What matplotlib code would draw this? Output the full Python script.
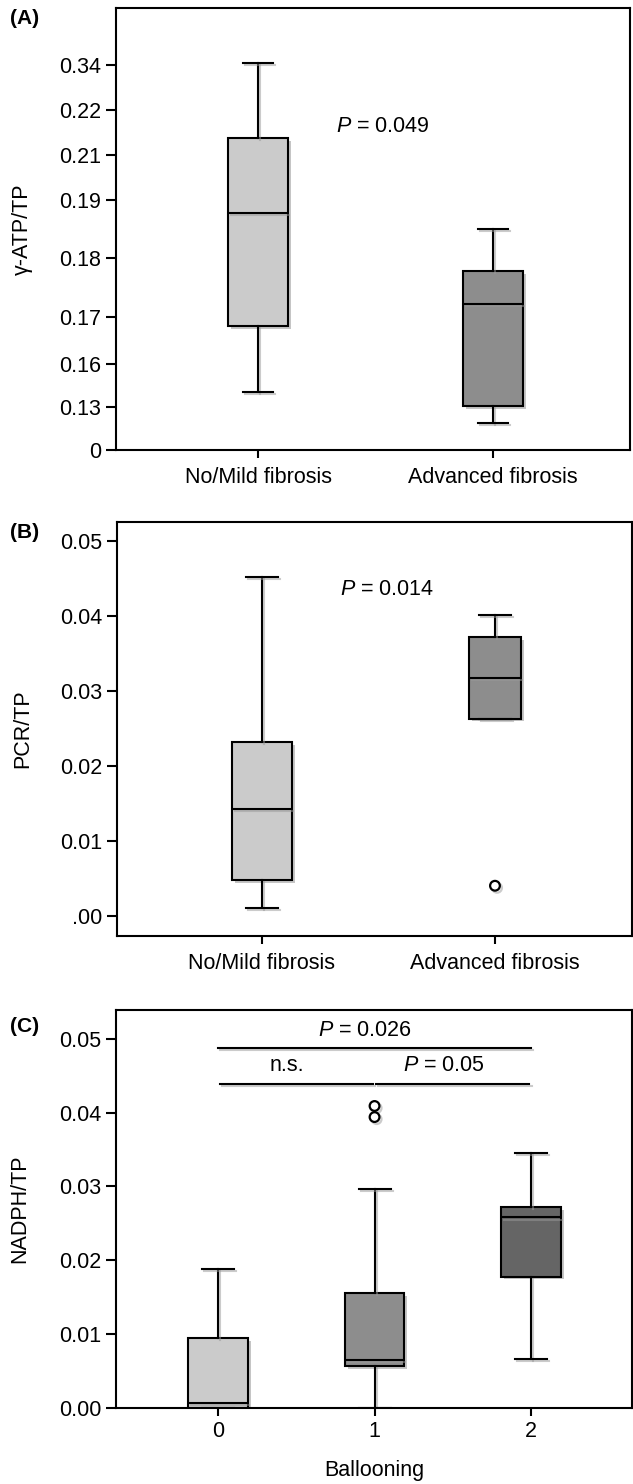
import numpy as np
import matplotlib
matplotlib.use('Agg')
import matplotlib.pyplot as plt
import matplotlib.patheffects as pe
from matplotlib.ticker import FixedLocator, FixedFormatter

plt.rcParams['font.family'] = ['Liberation Sans', 'DejaVu Sans']
plt.rcParams['mathtext.fontset'] = 'custom'
plt.rcParams['mathtext.it'] = 'Liberation Sans:italic'
plt.rcParams['mathtext.rm'] = 'Liberation Sans'

# (A) gamma-ATP/TP by fibrosis
fib_groups = ['No/Mild fibrosis', 'Advanced fibrosis']
atp_whislo = [0.1405, 0.0816]
atp_q1 = [0.1681, 0.1307]
atp_med = [0.1878, 0.1722]
atp_q3 = [0.2138, 0.1778]
atp_whishi = [0.345, 0.185]
atp_ticks = [0, 0.13, 0.16, 0.17, 0.18, 0.19, 0.21, 0.22, 0.34]
atp_ticklabels = ['0', '0.13', '0.16', '0.17', '0.18', '0.19', '0.21', '0.22', '0.34']
# the published axis is not linear: value -> drawn height
atp_axis_vals = atp_ticks + [0.50]
atp_axis_pos = [0, 43, 86, 133, 192, 250, 295, 340, 385, 442]
atp_p = 'P = 0.049'

# (B) PCR/TP by fibrosis
pcr_whislo = [0.0011, 0.0263]
pcr_q1 = [0.0048, 0.0263]
pcr_med = [0.0143, 0.0317]
pcr_q3 = [0.0232, 0.0372]
pcr_whishi = [0.0452, 0.0401]
pcr_fliers = [[], [0.0040]]
pcr_ticks = [0.0, 0.01, 0.02, 0.03, 0.04, 0.05]
pcr_ticklabels = ['.00', '0.01', '0.02', '0.03', '0.04', '0.05']
pcr_p = 'P = 0.014'

# (C) NADPH/TP by ballooning grade
ball_groups = ['0', '1', '2']
nad_whislo = [0.0, 0.0, 0.0067]
nad_q1 = [0.0, 0.0057, 0.0178]
nad_med = [0.0007, 0.0065, 0.0258]
nad_q3 = [0.0095, 0.0156, 0.0272]
nad_whishi = [0.0188, 0.0297, 0.0346]
nad_fliers = [[], [0.0409, 0.0394], []]
nad_ticks = [0.0, 0.01, 0.02, 0.03, 0.04, 0.05]
nad_ticklabels = ['0.00', '0.01', '0.02', '0.03', '0.04', '0.05']
sig_pairs = [(0, 2), (0, 1), (1, 2)]
sig_y = [0.0487, 0.0439, 0.0439]
sig_text = ['P = 0.026', 'n.s.', 'P = 0.05']

FS = 15.5
LW = 1.5


def p_label(s):
    return s.replace('P', r'$\it{P}$', 1)


def make_stats(lo, q1, med, q3, hi, fliers=None):
    stats = []
    for i in range(len(med)):
        stats.append(dict(whislo=lo[i], q1=q1[i], med=med[i], q3=q3[i], whishi=hi[i],
                          fliers=fliers[i] if fliers else []))
    return stats


def draw_boxes(ax, stats, positions, widths, capwidths, colors):
    bp = ax.bxp(stats, positions=positions, widths=widths, capwidths=capwidths,
                patch_artist=True, showfliers=True,
                boxprops=dict(linewidth=LW, edgecolor='black'),
                medianprops=dict(color='black', linewidth=LW),
                whiskerprops=dict(color='black', linewidth=LW),
                capprops=dict(color='black', linewidth=LW),
                flierprops=dict(marker='o', markerfacecolor='white', markeredgecolor='black',
                                markersize=7, markeredgewidth=1.6))
    shadow = [pe.SimpleLineShadow(offset=(1.5, -1.5), shadow_color='0.6', alpha=0.5), pe.Normal()]
    for patch, c in zip(bp['boxes'], colors):
        patch.set_facecolor(c)
        patch.set_path_effects([pe.withSimplePatchShadow(offset=(2, -2), shadow_rgbFace='0.55', alpha=0.5)])
    for key in ['whiskers', 'caps', 'medians', 'fliers']:
        for ln in bp[key]:
            ln.set_path_effects(shadow)
    return bp


def style_axes(ax):
    for sp in ax.spines.values():
        sp.set_linewidth(LW)
    ax.tick_params(axis='y', direction='out', length=7.5, width=LW, labelsize=FS, pad=3)
    ax.tick_params(axis='x', direction='out', length=6, width=LW, labelsize=FS, pad=6)


W, H = 633, 1484
fig = plt.figure(figsize=(W / 100, H / 100), dpi=100)

# ---- (A)
ax1 = fig.add_axes([116 / W, 1 - 450 / H, 514 / W, 442 / H])
fwd = lambda v: np.interp(v, atp_axis_vals, atp_axis_pos)
inv = lambda p: np.interp(p, atp_axis_pos, atp_axis_vals)
ax1.set_yscale('function', functions=(fwd, inv))
draw_boxes(ax1, make_stats(atp_whislo, atp_q1, atp_med, atp_q3, atp_whishi),
           [1, 2], [0.255, 0.255], [0.13, 0.13], ['#cbcbcb', '#8d8d8d'])
ax1.set_ylim(0, 0.5)
ax1.set_xlim(0.395, 2.583)
ax1.yaxis.set_major_locator(FixedLocator(atp_ticks))
ax1.yaxis.set_major_formatter(FixedFormatter(atp_ticklabels))
ax1.yaxis.set_minor_locator(FixedLocator([]))
ax1.set_xticks([1, 2])
ax1.set_xticklabels(fib_groups)
ax1.set_ylabel('γ-ATP/TP', fontsize=FS)
ax1.yaxis.set_label_coords(-0.161, 0.5)
ax1.text(1.33, 0.2164, p_label(atp_p), fontsize=FS, va='center', ha='left')
style_axes(ax1)

# ---- (B)
ax2 = fig.add_axes([117 / W, 1 - 936 / H, 515 / W, 414 / H])
draw_boxes(ax2, make_stats(pcr_whislo, pcr_q1, pcr_med, pcr_q3, pcr_whishi, pcr_fliers),
           [1, 2], [0.257, 0.223], [0.137, 0.137], ['#cbcbcb', '#8d8d8d'])
ax2.set_ylim(-0.0027, 0.0525)
ax2.set_xlim(0.378, 2.588)
ax2.set_yticks(pcr_ticks)
ax2.set_yticklabels(pcr_ticklabels)
ax2.set_xticks([1, 2])
ax2.set_xticklabels(fib_groups)
ax2.set_ylabel('PCR/TP', fontsize=FS)
ax2.yaxis.set_label_coords(-0.163, 0.5)
ax2.text(1.335, 0.0435, p_label(pcr_p), fontsize=FS, va='center', ha='left')
style_axes(ax2)

# ---- (C)
ax3 = fig.add_axes([116 / W, 1 - 1408 / H, 516 / W, 398 / H])
draw_boxes(ax3, make_stats(nad_whislo, nad_q1, nad_med, nad_q3, nad_whishi, nad_fliers),
           [0, 1, 2], [0.38] * 3, [0.205] * 3, ['#cbcbcb', '#8d8d8d', '#656565'])
ax3.set_ylim(0, 0.0539)
ax3.set_xlim(-0.652, 2.645)
ax3.set_yticks(nad_ticks)
ax3.set_yticklabels(nad_ticklabels)
ax3.set_xticks([0, 1, 2])
ax3.set_xticklabels(ball_groups)
ax3.set_ylabel('NADPH/TP', fontsize=FS)
ax3.yaxis.set_label_coords(-0.167, 0.5)
ax3.set_xlabel('Ballooning', fontsize=FS, labelpad=13)
for (a, b), y, s in zip(sig_pairs, sig_y, sig_text):
    gap = 0.01 if b - a == 1 else 0.0
    ax3.plot([a + gap, b - gap], [y, y], color='black', lw=LW,
             path_effects=[pe.SimpleLineShadow(offset=(1.5, -1.5), shadow_color='0.6', alpha=0.5), pe.Normal()])
    ax3.text((a + b) / 2 - 0.06, y + 0.001, p_label(s) if s.startswith('P') else s,
             fontsize=FS, ha='center', va='bottom')
style_axes(ax3)
ax3.tick_params(axis='x', pad=3.5)

for lab, y in zip(['(A)', '(B)', '(C)'], [19, 533, 1027]):
    fig.text(10 / W, 1 - y / H, lab, fontsize=15, fontweight='bold', va='center', ha='left')

fig.savefig('out.png', dpi=100)
